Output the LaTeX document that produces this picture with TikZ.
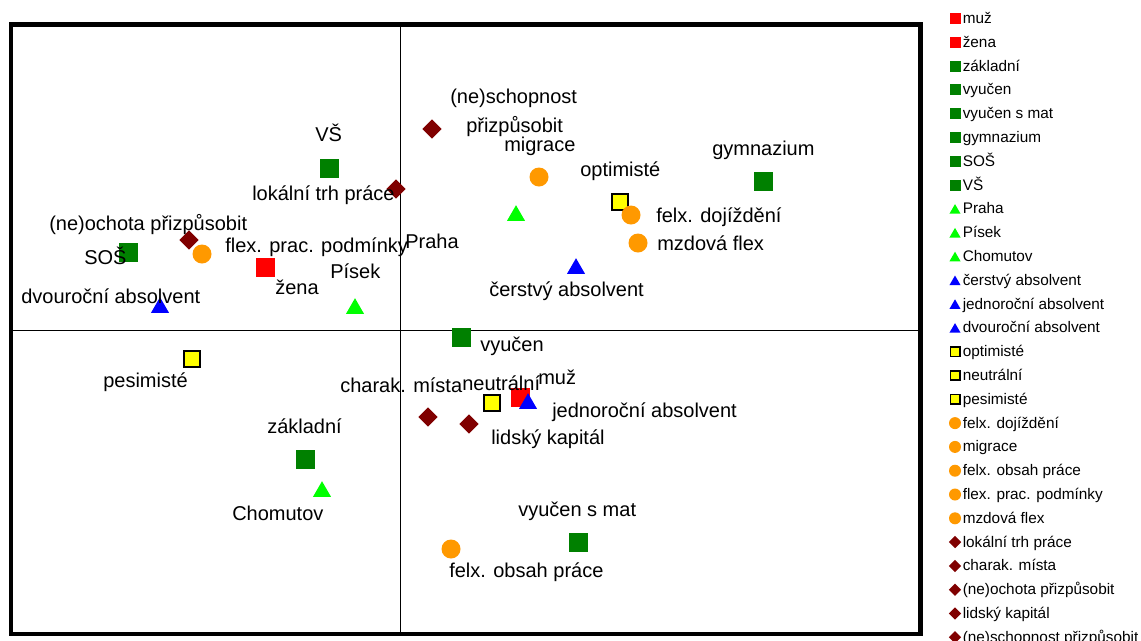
\documentclass[tikz,border=0pt]{standalone}
\usepackage{fontspec}
\setmainfont{Liberation Sans}
\usetikzlibrary{shapes.geometric}
\definecolor{mred}{HTML}{FF0000}
\definecolor{mgreen}{HTML}{008000}
\definecolor{mlime}{HTML}{00FF00}
\definecolor{mblue}{HTML}{0000FF}
\definecolor{myellow}{HTML}{FFFF00}
\definecolor{morange}{HTML}{FF9900}
\definecolor{mmaroon}{HTML}{800000}
\tikzset{
  mk/.style={inner sep=0pt, outer sep=0pt},
  % plot markers
  sqm/.style={mk, rectangle, minimum size=14.25pt, fill=#1},
  ysq/.style={mk, rectangle, minimum size=11.8pt, fill=myellow, draw=black, line width=1.7pt},
  trim/.style={mk, regular polygon, regular polygon sides=3, minimum size=15.6pt, fill=#1, yshift=-1.95pt},
  circm/.style={mk, circle, minimum size=14.25pt, fill=morange},
  diam/.style={mk, diamond, minimum width=14.5pt, minimum height=14.5pt, fill=mmaroon},
  lab/.style={inner sep=0pt, anchor=west, font=\fontsize{15}{18}\selectfont, text height=11.25pt, text depth=3pt, yshift=-1.5pt},
  % legend markers
  lred/.style={mk, rectangle, minimum size=8.25pt, fill=mred},
  lgreen/.style={mk, rectangle, minimum size=8.25pt, fill=mgreen},
  llime/.style={mk, regular polygon, regular polygon sides=3, minimum size=9.6pt, fill=mlime, yshift=-1.2pt},
  lblue/.style={mk, regular polygon, regular polygon sides=3, minimum size=9.6pt, fill=mblue, yshift=-1.2pt},
  lyel/.style={mk, rectangle, minimum size=7.1pt, fill=myellow, draw=black, line width=1.15pt},
  lorange/.style={mk, circle, minimum size=9pt, fill=morange},
  lmaroon/.style={mk, diamond, minimum width=9.2pt, minimum height=9.2pt, fill=mmaroon},
  ltext/.style={inner sep=0pt, anchor=west, font=\fontsize{11.5}{14}\selectfont, text height=8.6pt, text depth=2.3pt, yshift=-0.6pt},
}
\begin{document}
\begin{tikzpicture}[x=0.75pt, y=-0.75pt]
\clip (0,0) rectangle (1141,640);
\fill[white] (0,0) rectangle (1141,640);

% axes through the origin
\coordinate (xl) at (11,330);
\coordinate (xr) at (920.5,330);
\coordinate (yt) at (400,24.5);
\coordinate (yb) at (400,634);
\draw[line width=0.7pt] (xl) -- (xr);
\draw[line width=0.7pt] (yt) -- (yb);

% plot frame
\draw[line width=3.4pt] (11,24.5) rectangle (920.5,634);

% education
\node[sqm=mgreen] (vs) at (329,168) {};
\node[sqm=mgreen] (sos) at (128,252) {};
\node[sqm=mgreen] (gym) at (763,181) {};
\node[sqm=mgreen] (vyu) at (461,337) {};
\node[sqm=mgreen] (zak) at (305,459) {};
\node[sqm=mgreen] (vyum) at (578,542) {};
% sex
\node[sqm=mred] (zena) at (265,267) {};
\node[sqm=mred] (muz) at (520,397) {};
% region
\node[trim=mlime] (praha) at (516,213) {};
\node[trim=mlime] (pisek) at (355,306) {};
\node[trim=mlime] (chom) at (322,489) {};
% graduates
\node[trim=mblue] (cers) at (576,266) {};
\node[trim=mblue] (dvou) at (160,305) {};
% attitude
\node[ysq] (opt) at (620,202) {};
\node[ysq] (pes) at (192,359) {};
\node[ysq] (neu) at (492,403) {};
% flexibility
\node[circm] (flexp) at (202,254) {};
\node[circm] (migr) at (539,177) {};
\node[circm] (doj) at (631,215) {};
\node[circm] (mzd) at (638,243) {};
\node[circm] (obs) at (451,549) {};
% barriers
\node[diam] (lok) at (396,189) {};
\node[diam] (ochota) at (189,240) {};
\node[diam] (schop) at (432,129) {};
\node[diam] (charak) at (428,417) {};
\node[diam] (lids) at (469,424) {};
\node[trim=mblue] (jedn) at (528,401) {};

% point labels
\node[lab] (t-vs) at (315,134) {VŠ};
\node[lab] (t-lok) at (252,193) {lokální trh práce};
\node[lab] (t-ochota) at (49,223) {(ne)ochota přizpůsobit};
\node[lab] (t-sos) at (84,257) {SOŠ};
\node[lab] (t-flexp) at (225,245) {flex. prac. podmínky};
\node[lab] (t-zena) at (275,287) {žena};
\node[lab] (t-pisek) at (330,271) {Písek};
\node[lab] (t-dvou) at (21,296) {dvouroční absolvent};
\node[lab] (t-praha) at (405,241) {Praha};
\node[lab] (t-schop1) at (450,96) {(ne)schopnost};
\node[lab] (t-schop2) at (466,125) {přizpůsobit};
\node[lab] (t-migr) at (504,144) {migrace};
\node[lab] (t-opt) at (580,169) {optimisté};
\node[lab] (t-doj) at (656,215) {felx. dojíždění};
\node[lab] (t-mzd) at (657,243) {mzdová flex};
\node[lab] (t-gym) at (712,148) {gymnazium};
\node[lab] (t-cers) at (489,289) {čerstvý absolvent};
\node[lab] (t-vyu) at (480,344) {vyučen};
\node[lab] (t-pes) at (103,380) {pesimisté};
\node[lab] (t-charak) at (340,385) {charak. místa};
\node[lab] (t-neu) at (462,383) {neutrální};
\node[lab] (t-muz) at (538,377) {muž};
\node[lab] (t-jedn) at (552,410) {jednoroční absolvent};
\node[lab] (t-lids) at (491,437) {lidský kapitál};
\node[lab] (t-zak) at (267,426) {základní};
\node[lab] (t-chom) at (232,513) {Chomutov};
\node[lab] (t-vyum) at (518,509) {vyučen s mat};
\node[lab] (t-obs) at (449,570) {felx. obsah práce};

% legend (its last row runs past the lower edge of the page)
\foreach \s/\t [count=\i from 0] in {
  lred/muž, lred/žena,
  lgreen/základní, lgreen/vyučen, lgreen/vyučen s mat, lgreen/gymnazium, lgreen/SOŠ, lgreen/VŠ,
  llime/Praha, llime/Písek, llime/Chomutov,
  lblue/čerstvý absolvent, lblue/jednoroční absolvent, lblue/dvouroční absolvent,
  lyel/optimisté, lyel/neutrální, lyel/pesimisté,
  lorange/felx. dojíždění, lorange/migrace, lorange/felx. obsah práce, lorange/flex. prac. podmínky, lorange/mzdová flex,
  lmaroon/lokální trh práce, lmaroon/charak. místa, lmaroon/(ne)ochota přizpůsobit, lmaroon/lidský kapitál, lmaroon/(ne)schopnost přizpůsobit}
{
  \node[\s] (lm\i) at (955,{18.5+23.8*\i}) {};
  \node[ltext] (lt\i) at (962.5,{18.5+23.8*\i}) {\t};
}
\end{tikzpicture}
\end{document}
